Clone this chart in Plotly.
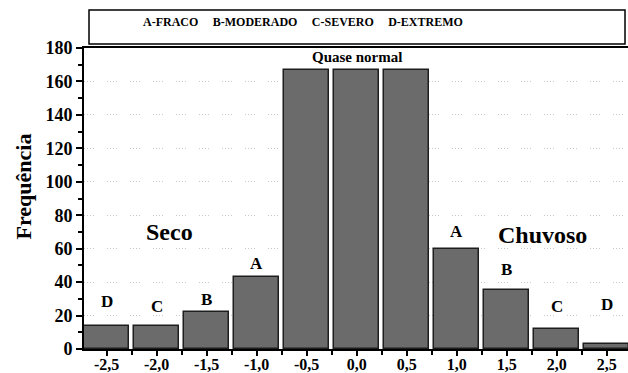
import plotly.graph_objects as go

classes = [-2.5, -2.0, -1.5, -1.0, -0.5, 0.0, 0.5, 1.0, 1.5, 2.0, 2.5]
freq = [14, 14, 22, 43, 167, 167, 167, 60, 35, 12, 3]
tick_text = ["-2,5", "-2,0", "-1,5", "-1,0", "-0,5", "0,0", "0,5", "1,0", "1,5", "2,0", "2,5"]
intensity = ["D", "C", "B", "A", "", "", "", "A", "B", "C", "D"]
label_shift = [24, 19, 13, 14, 0, 0, 0, 17, 21, 22, 39]
legend_text = "A-FRACO\u2002\u2002\u2009B-MODERADO\u2002\u2002\u2009C-SEVERO\u2002\u2002\u2009D-EXTREMO"

SERIF = "Liberation Serif"

fig = go.Figure()
fig.add_trace(go.Bar(
    x=classes, y=freq, width=0.45,
    marker=dict(color="#6b6b6b", line=dict(color="#1e1e1e", width=1.5)),
    showlegend=False, hoverinfo="skip",
))

ann = []
for xv, yv, lab, sh in zip(classes, freq, intensity, label_shift):
    if lab:
        ann.append(dict(x=xv, y=yv, text=lab, showarrow=False, yshift=sh,
                        yanchor="middle", xanchor="center",
                        font=dict(family=SERIF, size=17, color="black", weight="bold")))

ann.append(dict(x=0.0, y=max(freq), text="Quase normal", showarrow=False, yshift=13,
                yanchor="middle", xanchor="center",
                font=dict(family=SERIF, size=15, color="black", weight="bold")))
ann.append(dict(x=-1.87, y=70, text="Seco", showarrow=False, xanchor="center", yanchor="middle",
                font=dict(family=SERIF, size=24, color="black", weight="bold")))
ann.append(dict(x=1.86, y=68, text="Chuvoso", showarrow=False, xanchor="center", yanchor="middle",
                font=dict(family=SERIF, size=24, color="black", weight="bold")))
ann.append(dict(xref="paper", yref="paper", x=-0.112, y=0.54, text="Frequência",
                textangle=-90, showarrow=False, xanchor="center", yanchor="middle",
                font=dict(family=SERIF, size=22, color="black", weight="bold")))
ann.append(dict(xref="paper", yref="paper", x=0.4026, y=1.086, text=legend_text,
                showarrow=False, xanchor="center", yanchor="middle",
                font=dict(family=SERIF, size=12, color="black", weight="bold")))

fig.update_layout(
    width=628, height=373,
    margin=dict(l=84, r=0, t=48, b=24, autoexpand=False),
    paper_bgcolor="white", plot_bgcolor="white",
    annotations=ann,
    shapes=[dict(type="rect", xref="paper", yref="paper",
                 x0=0.0092, x1=0.9945, y0=1.013, y1=1.126,
                 line=dict(color="black", width=1.5))],
    xaxis=dict(
        range=[-2.727, 2.713], tickvals=classes, ticktext=tick_text,
        automargin=False,
        showline=True, linecolor="black", linewidth=2, mirror=True,
        ticks="outside", ticklen=5, tickwidth=1.5, tickcolor="black",
        ticklabelstandoff=-5,
        minor=dict(tickvals=[c + 0.25 for c in classes], ticks="outside",
                   ticklen=4, tickwidth=1.5, tickcolor="black"),
        showgrid=False, zeroline=False,
        tickfont=dict(family=SERIF, size=16, color="black", weight="bold"),
    ),
    yaxis=dict(
        range=[0, 180], dtick=20, tick0=0, automargin=False,
        showline=True, linecolor="black", linewidth=2,
        ticks="outside", ticklen=6, tickwidth=1.5, tickcolor="black",
        minor=dict(dtick=10, ticks="outside", ticklen=4, tickwidth=1.5,
                   tickcolor="black", showgrid=False),
        showgrid=True, gridcolor="#c8c8c8", gridwidth=1,
        griddash="1px,2px,1px,2px,1px,2px,1px,13px",
        zeroline=False,
        tickfont=dict(family=SERIF, size=18, color="black", weight="bold"),
    ),
    bargap=0,
)

fig.write_html("out.html", config={"displayModeBar": False},
               post_script="document.body.style.margin='0';document.body.style.overflow='hidden';")
